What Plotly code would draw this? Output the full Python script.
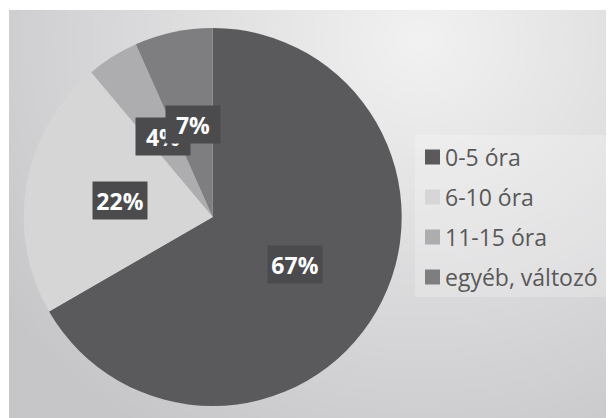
import base64, struct, zlib, math
import numpy as np
import plotly.graph_objects as go

# ---- data ----
categories = ["0-5 óra", "6-10 óra", "11-15 óra", "egyéb, változó"]
values = [30, 10, 2, 3]
colors = ["#5a5a5c", "#d6d6d6", "#adadaf", "#7e7e80"]

W, H = 614, 418
OFF = 8  # page body margin offset

# ---- background gradient image ----
def png_uri(arr):
    h, w, _ = arr.shape
    raw = b"".join(b"\x00" + arr[i].tobytes() for i in range(h))
    def chunk(t, d):
        c = struct.pack(">I", len(d)) + t + d
        return c + struct.pack(">I", zlib.crc32(t + d) & 0xffffffff)
    png = b"\x89PNG\r\n\x1a\n" + chunk(b"IHDR", struct.pack(">IIBBBBB", w, h, 8, 2, 0, 0, 0))
    png += chunk(b"IDAT", zlib.compress(raw, 9)) + chunk(b"IEND", b"")
    return "data:image/png;base64," + base64.b64encode(png).decode()

bx0, by0 = 9 - OFF, 10 - OFF
bw, bh = W - bx0, H - by0
yy, xx = np.mgrid[0:bh, 0:bw]
d = np.sqrt(((xx + bx0 + OFF - 420) / 1.0) ** 2 + ((yy + by0 + OFF - 40) / 0.9) ** 2)
t = np.clip(d / 520.0, 0, 1)
c0 = np.array([242, 242, 242.0])
c1 = np.array([198, 198, 201.0])
img = (c0[None, None, :] * (1 - t[..., None]) + c1[None, None, :] * t[..., None]).astype(np.uint8)
bg_uri = png_uri(img)

def px2x(x):
    return (x - OFF) / W

def px2y(y):
    return 1 - (y - OFF) / H

# ---- pie geometry (reference pixels) ----
cx, cy, r = 212.7, 217.0, 189.0
dom_x = [px2x(cx - r), px2x(cx + r)]
dom_y = [px2y(cy + r), px2y(cy - r)]

fig = go.Figure(go.Pie(
    labels=categories, values=values, sort=False, direction="clockwise", rotation=0,
    marker=dict(colors=colors, line=dict(width=0)),
    textinfo="none", hoverinfo="label+percent", showlegend=False,
    domain=dict(x=dom_x, y=dom_y),
))

annotations = []
shapes = []
total = sum(values)
cum = 0
for v in values:
    mid = (cum + v / 2) / total * 2 * math.pi
    cum += v
    px = cx + 0.5 * r * math.sin(mid)
    py = cy - 0.5 * r * math.cos(mid)
    annotations.append(dict(
        x=px2x(px), y=px2y(py), xref="paper", yref="paper", showarrow=False,
        text=f"{round(v / total * 100)}%", bgcolor="#4b4b4d", width=52, height=35,
        font=dict(family="Open Sans", size=23, color="white", weight="bold"),
        xanchor="center", yanchor="middle",
    ))

# ---- legend (manual) ----
shapes.append(dict(type="rect", xref="paper", yref="paper", layer="above",
                   x0=px2x(415), x1=px2x(612), y0=px2y(297), y1=px2y(135),
                   fillcolor="rgba(255,255,255,0.22)", line=dict(width=0)))
for i, (lab, col) in enumerate(zip(categories, colors)):
    yc = 157 + 40 * i
    shapes.append(dict(type="rect", xref="paper", yref="paper", layer="above",
                       x0=px2x(425), x1=px2x(440), y0=px2y(yc + 7.5), y1=px2y(yc - 7.5),
                       fillcolor=col, line=dict(width=0)))
    annotations.append(dict(x=px2x(443), y=px2y(yc), xref="paper", yref="paper",
                            showarrow=False, text=lab, xanchor="left", yanchor="middle",
                            font=dict(family="Open Sans", size=23, color="#595959")))

fig.update_layout(
    width=W, height=H, margin=dict(l=0, r=0, t=0, b=0),
    paper_bgcolor="white",
    images=[dict(source=bg_uri, xref="paper", yref="paper", x=bx0 / W, y=1 - by0 / H,
                 sizex=bw / W, sizey=bh / H, xanchor="left", yanchor="top",
                 sizing="stretch", layer="below")],
    annotations=annotations, shapes=shapes,
)
fig.write_html("out.html")
